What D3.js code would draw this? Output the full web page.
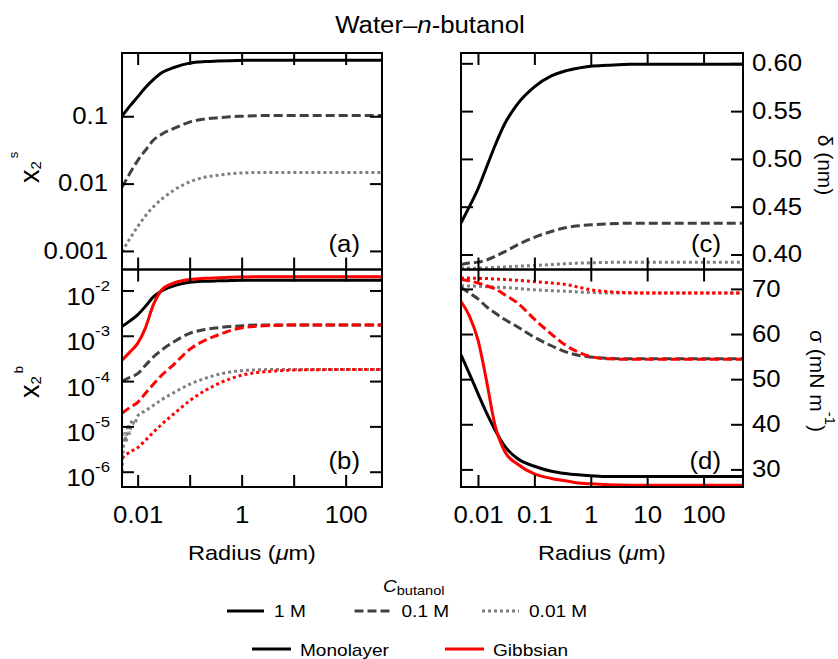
<!DOCTYPE html>
<html>
<head>
<meta charset="utf-8">
<script src="https://cdn.jsdelivr.net/npm/d3@7"></script>
<style>
  body { margin: 0; background: #fff; }
</style>
</head>
<body>
<svg id="chart" width="838" height="659"></svg>
<script>
// Radius grid (um) shared by most curves
const RADIUS = [0.005, 0.007, 0.01, 0.014, 0.02, 0.03, 0.05, 0.1, 0.2, 0.35, 0.6, 1, 2, 5, 10, 100, 500];
// The 0.01 M monolayer bulk curve is noisy at small radii, so it has its own grid
const RADIUS_NOISY = [0.005, 0.0053, 0.0056, 0.006, 0.0065, 0.007, 0.0078, 0.0086, 0.01, 0.014, 0.02, 0.03,
  0.05, 0.1, 0.2, 0.35, 0.6, 1, 2, 5, 10, 100, 500];

// (a) surface mole fraction x2^s
const xsMono1M = [0.10, 0.14, 0.194, 0.265, 0.35, 0.45, 0.53, 0.615, 0.648, 0.66, 0.67, 0.675, 0.68, 0.68, 0.68, 0.68, 0.68];
const xsMono01M = [0.0088, 0.014, 0.022, 0.031, 0.044, 0.055, 0.066, 0.082, 0.091, 0.095, 0.098, 0.100, 0.102, 0.103, 0.103, 0.103, 0.103];
const xsMono001M = [0.00097, 0.0015, 0.0023, 0.0033, 0.0045, 0.006, 0.008, 0.0106, 0.0125, 0.0133, 0.014, 0.0144, 0.0146, 0.0146, 0.0146, 0.0146, 0.0146];

// (b) bulk mole fraction x2^b
const xbMono1M = [1.6e-3, 2.1e-3, 2.9e-3, 4.4e-3, 7.2e-3, 1.0e-2, 1.27e-2, 1.51e-2, 1.6e-2, 1.63e-2, 1.65e-2, 1.67e-2, 1.67e-2, 1.67e-2, 1.67e-2, 1.67e-2, 1.67e-2];
const xbGibbs1M = [2.9e-4, 4.3e-4, 6.8e-4, 1.46e-3, 4.8e-3, 1.07e-2, 1.46e-2, 1.74e-2, 1.85e-2, 1.9e-2, 1.95e-2, 1.98e-2, 2.0e-2, 2.0e-2, 2.0e-2, 2.0e-2, 2.0e-2];
const xbMono01M = [1.0e-4, 1.2e-4, 1.46e-4, 2.2e-4, 3.4e-4, 5.0e-4, 7.4e-4, 1.13e-3, 1.38e-3, 1.5e-3, 1.6e-3, 1.66e-3, 1.73e-3, 1.73e-3, 1.73e-3, 1.73e-3, 1.73e-3];
const xbGibbs01M = [1.95e-5, 2.6e-5, 3.4e-5, 5.3e-5, 8.5e-5, 1.4e-4, 2.35e-4, 5.0e-4, 8.0e-4, 1.04e-3, 1.3e-3, 1.5e-3, 1.62e-3, 1.7e-3, 1.73e-3, 1.73e-3, 1.73e-3];
const xbMono001M = [1.0e-6, 3.5e-6, 7e-6, 4.5e-6, 1.1e-5, 7e-6, 1.4e-5, 1.1e-5, 1.7e-5, 2.2e-5, 2.9e-5, 4.0e-5,
  5.6e-5, 8.5e-5, 1.15e-4, 1.4e-4, 1.58e-4, 1.7e-4, 1.77e-4, 1.8e-4, 1.8e-4, 1.8e-4, 1.8e-4];
const xbGibbs001M = [2.0e-6, 2.7e-6, 3.4e-6, 4.9e-6, 7.4e-6, 1.15e-5, 1.9e-5, 3.7e-5, 6.2e-5, 8.7e-5, 1.12e-4, 1.35e-4, 1.55e-4, 1.68e-4, 1.75e-4, 1.8e-4, 1.8e-4];

// (c) monolayer thickness delta (nm)
const deltaMono1M = [0.433, 0.4498, 0.4687, 0.4905, 0.5138, 0.537, 0.5573, 0.5754, 0.5868, 0.592, 0.595, 0.597, 0.598, 0.599, 0.599, 0.599, 0.599];
const deltaMono01M = [0.3896, 0.391, 0.392, 0.394, 0.398, 0.403, 0.410, 0.418, 0.424, 0.428, 0.43, 0.431, 0.432, 0.4327, 0.4327, 0.4327, 0.4327];
const deltaMono001M = [0.386, 0.3858, 0.3857, 0.386, 0.3865, 0.387, 0.3877, 0.3885, 0.3895, 0.3903, 0.391, 0.3913, 0.3917, 0.392, 0.392, 0.392, 0.392];

// (d) surface tension sigma (mN/m)
const sigmaMono1M = [55.4, 51.3, 46.8, 42.7, 38.8, 35.1, 32.4, 30.7, 29.6, 29.1, 28.8, 28.6, 28.4, 28.4, 28.4, 28.4, 28.4];
const sigmaGibbs1M = [67.2, 64.1, 58.7, 50.0, 39.8, 33.9, 31.2, 29.0, 28.0, 27.5, 27.0, 26.8, 26.6, 26.5, 26.5, 26.5, 26.5];
const sigmaMono01M = [70.4, 69.1, 67.8, 66.1, 64.7, 63.2, 61.6, 59.3, 57.4, 56.1, 55.3, 54.9, 54.6, 54.5, 54.5, 54.5, 54.5];
const sigmaGibbs01M = [72.1, 71.8, 71.3, 70.7, 70.0, 68.7, 66.9, 63.3, 60.0, 57.6, 56.0, 55.0, 54.5, 54.4, 54.4, 54.4, 54.4];
const sigmaMono001M = [70.7, 70.65, 70.6, 70.5, 70.4, 70.3, 70.1, 69.8, 69.6, 69.5, 69.3, 69.2, 69.1, 69.1, 69.1, 69.1, 69.1];
const sigmaGibbs001M = [72.4, 72.4, 72.35, 72.3, 72.2, 72.1, 71.9, 71.6, 71.3, 71.0, 70.4, 69.8, 69.4, 69.15, 69.1, 69.1, 69.1];

// Ticks and legend labels
const X_TICKS = [0.01, 0.1, 1, 10, 100];
const X_LABELS_LEFT = [0.01, 1, 100];
const YA_TICKS = [0.001, 0.01, 0.1];
const YB_TICKS = [1e-6, 1e-5, 1e-4, 1e-3, 1e-2];
const YC_TICKS = [0.40, 0.45, 0.50, 0.55, 0.60];
const YD_TICKS = [30, 40, 50, 60, 70];
const CONC_LABELS = ["1 M", "0.1 M", "0.01 M"];
const MODEL_LABELS = ["Monolayer", "Gibbsian"];

const FONT = '"Liberation Sans", Arial, Helvetica, sans-serif';
const STRETCH = 1.12; // reference glyphs are a bit wider than Arial

// line styles per concentration, colour per model
const CONC_STYLE = [
  { color: "#000000", dash: null },
  { color: "#404040", dash: "9,4" },
  { color: "#808080", dash: "3,3" }
];
const RED = "#ff0000";

const svg = d3.select("#chart");

const TOP = 53, MID = 269.5, BOT = 487;
const xLeft = d3.scaleLog().domain([0.005, 500]).range([122, 382]);
const xRight = d3.scaleLog().domain([0.005, 500]).range([461, 743]);
const yA = d3.scaleLog().domain([0.00053, 0.87]).range([MID, TOP]);
const yB = d3.scaleLog().domain([4.6e-7, 0.029]).range([BOT, MID]);
const yC = d3.scaleLinear().domain([0.3843, 0.6108]).range([MID, TOP]);
const yD = d3.scaleLinear().domain([26.1, 74.3]).range([BOT, MID]);

const noLabel = () => "";

const axisG = (g, axis, tx, ty, cls) =>
  g.append("g")
    .attr("class", cls || null)
    .attr("transform", `translate(${tx},${ty})`)
    .call(axis)
    .attr("font-size", 23)
    .attr("font-family", FONT)
    .call((a) => a.select(".domain").remove())
    .call((a) => a.selectAll(".tick line").attr("stroke", "#000").attr("stroke-width", 2))
    .call((a) => a.selectAll(".tick text").attr("fill", "#000"));

const drawPanel = (p) => {
  const [x0, x1] = p.x.range();
  const [y1, y0] = p.y.range();
  const g = svg.append("g");

  g.append("clipPath").attr("id", "clip-" + p.name)
    .append("rect").attr("x", x0).attr("y", y0).attr("width", x1 - x0).attr("height", y1 - y0);

  const line = d3.line()
    .x((d) => p.x(d[0]))
    .y((d) => p.y(d[1]))
    .curve(d3.curveMonotoneX);

  g.append("g").attr("clip-path", `url(#clip-${p.name})`)
    .selectAll("path")
    .data(p.series)
    .join("path")
    .attr("d", (s) => line(d3.zip(s.r, s.v)))
    .attr("fill", "none")
    .attr("stroke", (s) => s.color)
    .attr("stroke-width", 3)
    .attr("stroke-dasharray", (s) => s.dash);

  // inward ticks on all four sides
  axisG(g, d3.axisTop(p.x).tickValues(X_TICKS).tickSizeInner(-12).tickSizeOuter(0).tickFormat(noLabel), 0, y0);
  axisG(g, d3.axisBottom(p.x).tickValues(X_TICKS).tickSizeInner(-12).tickSizeOuter(0)
    .tickPadding(20).tickFormat(p.xFormat || noLabel), 0, y1);
  axisG(g, d3.axisLeft(p.y).tickValues(p.yTicks).tickSizeInner(-12).tickSizeOuter(0)
    .tickPadding(p.leftPad || 14).tickFormat(p.leftFormat || noLabel), x0, 0, "y-left");
  axisG(g, d3.axisRight(p.y).tickValues(p.yTicks).tickSizeInner(-12).tickSizeOuter(0)
    .tickPadding(9).tickFormat(p.rightFormat || noLabel), x1, 0);

  g.append("rect")
    .attr("x", x0).attr("y", y0).attr("width", x1 - x0).attr("height", y1 - y0)
    .attr("fill", "none").attr("stroke", "#000").attr("stroke-width", 2);

  g.append("text")
    .attr("x", x1 - 22).attr("y", y1 - 18)
    .attr("text-anchor", "end")
    .attr("font-family", FONT).attr("font-size", 23)
    .text(p.letter);

  return g;
};

const mono = (r, v, i) => ({ r, v, color: CONC_STYLE[i].color, dash: CONC_STYLE[i].dash });
const gibbs = (r, v, i) => ({ r, v, color: RED, dash: CONC_STYLE[i].dash });

drawPanel({
  name: "a", letter: "(a)", x: xLeft, y: yA, yTicks: YA_TICKS,
  leftFormat: (d) => String(d),
  series: [mono(RADIUS, xsMono001M, 2), mono(RADIUS, xsMono01M, 1), mono(RADIUS, xsMono1M, 0)]
});

const panelB = drawPanel({
  name: "b", letter: "(b)", x: xLeft, y: yB, yTicks: YB_TICKS, leftPad: 12,
  xFormat: (d) => (X_LABELS_LEFT.includes(d) ? String(d) : ""),
  leftFormat: (d) => String(d),
  series: [
    mono(RADIUS_NOISY, xbMono001M, 2), mono(RADIUS, xbMono01M, 1), mono(RADIUS, xbMono1M, 0),
    gibbs(RADIUS, xbGibbs001M, 2), gibbs(RADIUS, xbGibbs01M, 1), gibbs(RADIUS, xbGibbs1M, 0)
  ]
});

// powers of ten with raised exponents
panelB.select(".y-left").selectAll(".tick text").each(function (d) {
  const t = d3.select(this).text("").attr("dy", null).attr("y", 14);
  t.append("tspan").text("10");
  t.append("tspan").attr("font-size", 15).attr("dy", -14).text(Math.round(Math.log10(d)));
});

drawPanel({
  name: "c", letter: "(c)", x: xRight, y: yC, yTicks: YC_TICKS,
  rightFormat: d3.format(".2f"),
  series: [mono(RADIUS, deltaMono001M, 2), mono(RADIUS, deltaMono01M, 1), mono(RADIUS, deltaMono1M, 0)]
});

drawPanel({
  name: "d", letter: "(d)", x: xRight, y: yD, yTicks: YD_TICKS,
  xFormat: (d) => String(d),
  rightFormat: (d) => String(d),
  series: [
    mono(RADIUS, sigmaMono001M, 2), mono(RADIUS, sigmaMono01M, 1), mono(RADIUS, sigmaMono1M, 0),
    gibbs(RADIUS, sigmaGibbs001M, 2), gibbs(RADIUS, sigmaGibbs01M, 1), gibbs(RADIUS, sigmaGibbs1M, 0)
  ]
});

// Title
const title = svg.append("text")
  .attr("x", 430).attr("y", 33)
  .attr("text-anchor", "middle")
  .attr("font-family", FONT).attr("font-size", 23);
title.append("tspan").text("Water–");
title.append("tspan").attr("font-style", "italic").text("n");
title.append("tspan").text("-butanol");

// x axis titles
[xLeft, xRight].forEach((x) => {
  const t = svg.append("text")
    .attr("x", d3.mean(x.range())).attr("y", 560)
    .attr("text-anchor", "middle")
    .attr("font-family", FONT).attr("font-size", 21);
  t.append("tspan").text("Radius (");
  t.append("tspan").attr("font-style", "italic").text("μ");
  t.append("tspan").text("m)");
});

// left y titles: x2^s and x2^b (rotated)
const leftTitle = (y, sup) => {
  const t = svg.append("text")
    .attr("class", "rot")
    .attr("transform", `translate(39,${y}) rotate(-90)`)
    .attr("font-family", FONT);
  t.append("tspan").attr("font-size", 27).text("x");
  t.append("tspan").attr("font-size", 15).attr("dy", 2).text("2");
  t.append("tspan").attr("font-size", 13).attr("dx", 3).attr("dy", sup === "s" ? -23 : -18).text(sup);
};
leftTitle(183, "s");
leftTitle(398, "b");

// right y titles (rotated the other way)
svg.append("text")
  .attr("class", "rot")
  .attr("transform", "translate(818,165) rotate(90)")
  .attr("text-anchor", "middle")
  .attr("font-family", FONT).attr("font-size", 21)
  .text("δ (nm)");

const sigTitle = svg.append("text")
  .attr("class", "rot")
  .attr("transform", "translate(810,381) rotate(90)")
  .attr("text-anchor", "middle")
  .attr("font-family", FONT).attr("font-size", 21);
sigTitle.append("tspan").text("σ (mN m");
sigTitle.append("tspan").attr("font-size", 15).attr("dy", -15).text("-1");
sigTitle.append("tspan").attr("dy", 15).text(")");

// Legend
const legend = svg.append("g").attr("font-family", FONT);
const cHead = legend.append("text").attr("x", 383).attr("y", 592);
cHead.append("tspan").attr("font-style", "italic").attr("font-size", 17).text("C");
cHead.append("tspan").attr("font-size", 13).attr("dy", 3).text("butanol");

CONC_LABELS.forEach((label, i) => {
  const x = 227 + i * 127.5;
  legend.append("line")
    .attr("x1", x).attr("x2", x + 37).attr("y1", 611).attr("y2", 611)
    .attr("stroke", CONC_STYLE[i].color).attr("stroke-width", 3)
    .attr("stroke-dasharray", CONC_STYLE[i].dash);
  legend.append("text").attr("x", x + 47).attr("y", 617).attr("font-size", 17).text(label);
});

MODEL_LABELS.forEach((label, i) => {
  const x = 252 + i * 193;
  legend.append("line")
    .attr("x1", x).attr("x2", x + 39).attr("y1", 649).attr("y2", 649)
    .attr("stroke", i === 0 ? "#000" : RED).attr("stroke-width", 3);
  legend.append("text").attr("x", x + 48).attr("y", 656).attr("font-size", 17).text(label);
});

// widen horizontal text a little to match the reference lettering
svg.selectAll("text:not(.rot)").each(function () {
  const len = this.getComputedTextLength();
  if (len > 0) {
    d3.select(this).attr("textLength", len * STRETCH).attr("lengthAdjust", "spacingAndGlyphs");
  }
});
</script>
</body>
</html>
